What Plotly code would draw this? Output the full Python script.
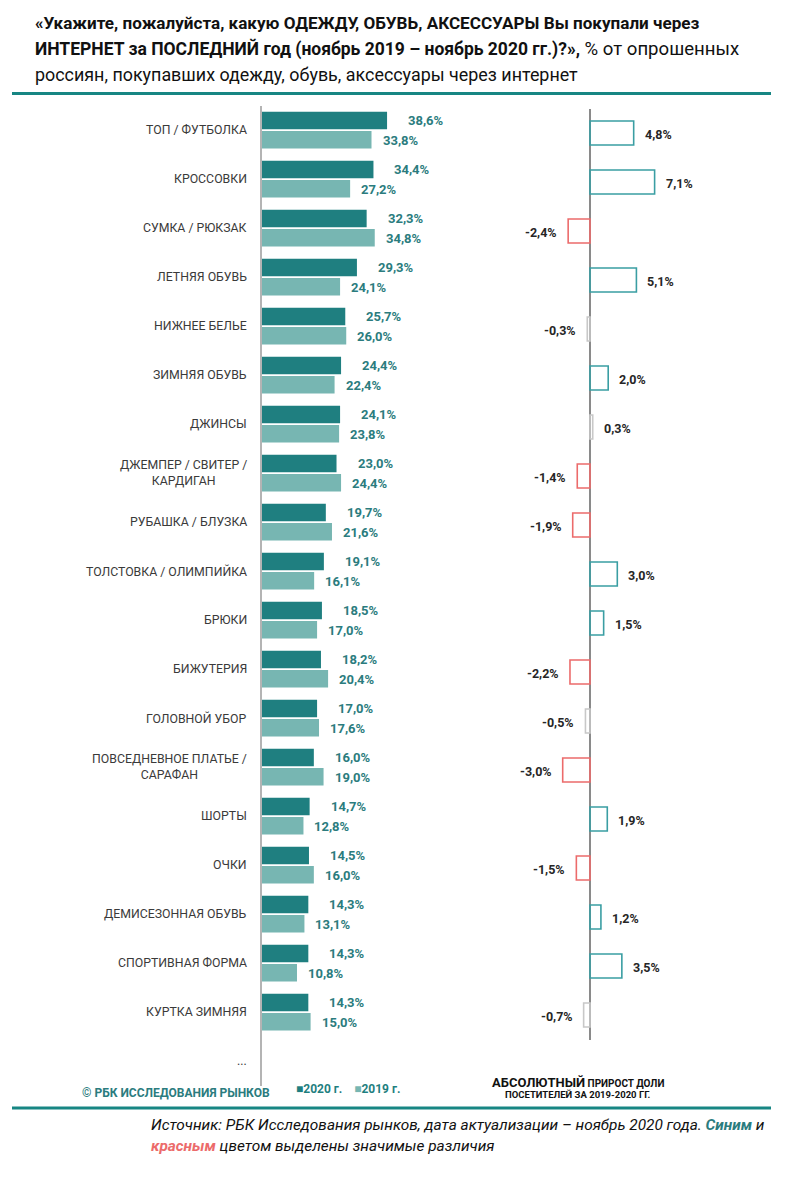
import plotly.graph_objects as go

W, H = 788, 1192
OFF = 8  # page body margin

categories = ["ТОП / ФУТБОЛКА", "КРОССОВКИ", "СУМКА / РЮКЗАК", "ЛЕТНЯЯ ОБУВЬ", "НИЖНЕЕ БЕЛЬЕ",
              "ЗИМНЯЯ ОБУВЬ", "ДЖИНСЫ", "ДЖЕМПЕР / СВИТЕР /<br>КАРДИГАН", "РУБАШКА / БЛУЗКА",
              "ТОЛСТОВКА / ОЛИМПИЙКА", "БРЮКИ", "БИЖУТЕРИЯ", "ГОЛОВНОЙ УБОР",
              "ПОВСЕДНЕВНОЕ ПЛАТЬЕ /<br>САРАФАН", "ШОРТЫ", "ОЧКИ", "ДЕМИСЕЗОННАЯ ОБУВЬ",
              "СПОРТИВНАЯ ФОРМА", "КУРТКА ЗИМНЯЯ"]
more_label = "..."
values_2020 = [38.6, 34.4, 32.3, 29.3, 25.7, 24.4, 24.1, 23.0, 19.7, 19.1, 18.5, 18.2, 17.0, 16.0,
               14.7, 14.5, 14.3, 14.3, 14.3]
values_2019 = [33.8, 27.2, 34.8, 24.1, 26.0, 22.4, 23.8, 24.4, 21.6, 16.1, 17.0, 20.4, 17.6, 19.0,
               12.8, 16.0, 13.1, 10.8, 15.0]
change = [4.8, 7.1, -2.4, 5.1, -0.3, 2.0, 0.3, -1.4, -1.9, 3.0, 1.5, -2.2, -0.5, -3.0, 1.9, -1.5,
          1.2, 3.5, -0.7]
significant = [1, 1, 1, 1, 0, 1, 0, 1, 1, 1, 1, 1, 0, 1, 1, 1, 1, 1, 0]
series_names = ["2020 г.", "2019 г."]

FONT = "Roboto"
C2020 = "#1F7F80"
C2019 = "#77B6B2"
CLABEL = "#2B7C7E"
TEAL_LINE = "#178683"
POS = "#3A9EA3"
NEG = "#EC6B6B"
INS = "#C8C8C8"


def px(x):
    return (x - OFF) / W


def py(y):
    return 1 - (y - OFF) / H


def fmt(v):
    return f"{v:.1f}%".replace(".", ",")


rows = list(range(len(categories)))

fig = go.Figure()
fig.add_trace(go.Bar(y=rows, x=values_2020, orientation="h", width=0.36, offset=-0.375,
                     marker=dict(color=C2020, line=dict(width=0)), name=series_names[0],
                     xaxis="x", yaxis="y", showlegend=False, hoverinfo="skip"))
fig.add_trace(go.Bar(y=rows, x=values_2019, orientation="h", width=0.36, offset=0.02,
                     marker=dict(color=C2019, line=dict(width=0)), name=series_names[1],
                     xaxis="x", yaxis="y", showlegend=False, hoverinfo="skip"))

outline = [(POS if c > 0 else NEG) if s else INS for c, s in zip(change, significant)]
fig.add_trace(go.Bar(y=rows, x=change, orientation="h", width=0.49,
                     marker=dict(color="rgba(255,255,255,0)", line=dict(color=outline, width=1.6)),
                     xaxis="x2", yaxis="y2", showlegend=False, hoverinfo="skip"))

ann = []
# category labels
for i, c in enumerate(categories + [more_label]):
    ann.append(dict(x=px(249), xref="paper", y=i, yref="y", text=c, showarrow=False,
                    xanchor="right", yanchor="middle", align="center",
                    font=dict(family=FONT, size=12.3, color="#3A3A3A")))
# value labels left
for i, (a, b) in enumerate(zip(values_2020, values_2019)):
    ann.append(dict(x=a, y=i - 0.2, xref="x", yref="y", text=fmt(a), showarrow=False,
                    xanchor="left", yanchor="middle", xshift=19,
                    font=dict(family=FONT, size=13, color=CLABEL, weight="bold")))
    ann.append(dict(x=b, y=i + 0.21, xref="x", yref="y", text=fmt(b), showarrow=False,
                    xanchor="left", yanchor="middle", xshift=9,
                    font=dict(family=FONT, size=13, color=CLABEL, weight="bold")))
# value labels right
for i, c in enumerate(change):
    ann.append(dict(x=c, y=i + 0.03, xref="x2", yref="y2", text=fmt(c), showarrow=False,
                    xanchor="left" if c > 0 else "right", yanchor="middle",
                    xshift=9 if c > 0 else -9,
                    font=dict(family=FONT, size=12.5, color="#262626", weight="bold")))

# title
title_lines = [
    "<span style='font-size:17.1px'><b>«Укажите, пожалуйста, какую ОДЕЖДУ, ОБУВЬ, АКСЕССУАРЫ Вы покупали через</b></span>",
    "<span style='font-size:17.5px'><b>ИНТЕРНЕТ за ПОСЛЕДНИЙ год (ноябрь 2019 – ноябрь 2020 гг.)?»,</b></span>"
    "<span style='font-size:18.6px'> % от опрошенных</span>",
    "<span style='font-size:17.9px'>россиян, покупавших одежду, обувь, аксессуары через интернет</span>",
]
for t, yy in zip(title_lines, [22.5, 48.5, 74.5]):
    ann.append(dict(x=px(33), y=py(yy), xref="paper", yref="paper", text=t, showarrow=False,
                    xanchor="left", yanchor="middle", align="left",
                    font=dict(family=FONT, size=17.5, color="#111111")))

# footer
ann.append(dict(x=px(80), y=py(1093), xref="paper", yref="paper",
                text="<b>© РБК ИССЛЕДОВАНИЯ РЫНКОВ</b>", showarrow=False,
                xanchor="left", yanchor="middle",
                font=dict(family=FONT, size=12, color=CLABEL)))
ann.append(dict(x=px(294), y=py(1089), xref="paper", yref="paper",
                text=f"<b><span style='color:{C2020}'>■</span>{series_names[0]}"
                     f"    <span style='color:{C2019}'>■</span>{series_names[1]}</b>",
                showarrow=False, xanchor="left", yanchor="middle",
                font=dict(family=FONT, size=12, color=C2020)))
ann.append(dict(x=px(578), y=py(1082), xref="paper", yref="paper",
                text="<b>АБСОЛЮТНЫЙ</b><b><span style='font-size:10px'> ПРИРОСТ ДОЛИ</span></b>",
                showarrow=False, xanchor="center", yanchor="middle",
                font=dict(family=FONT, size=13, color="#111111")))
ann.append(dict(x=px(577), y=py(1094), xref="paper", yref="paper",
                text="<b>ПОСЕТИТЕЛЕЙ ЗА 2019-2020 ГГ.</b>",
                showarrow=False, xanchor="center", yanchor="middle",
                font=dict(family=FONT, size=9.5, color="#111111")))
ann.append(dict(x=px(149), y=py(1125), xref="paper", yref="paper",
                text="<i>Источник: РБК Исследования рынков, дата актуализации – ноябрь 2020 года. "
                     f"<b><span style='color:{CLABEL}'>Синим</span></b> и</i>",
                showarrow=False, xanchor="left", yanchor="middle",
                font=dict(family=FONT, size=15.4, color="#111111")))
ann.append(dict(x=px(149), y=py(1146), xref="paper", yref="paper",
                text=f"<i><b><span style='color:{NEG}'>красным</span></b> цветом выделены значимые различия</i>",
                showarrow=False, xanchor="left", yanchor="middle",
                font=dict(family=FONT, size=15.4, color="#111111")))

shapes = [
    dict(type="line", xref="paper", yref="paper", x0=px(12), x1=px(771), y0=py(93.5), y1=py(93.5),
         line=dict(color=TEAL_LINE, width=3)),
    dict(type="line", xref="paper", yref="paper", x0=px(12), x1=px(771), y0=py(1108), y1=py(1108),
         line=dict(color=TEAL_LINE, width=3)),
]

n = len(categories) + 1
left_scale = 3.24
right_scale = 9.1
fig.update_layout(
    width=W, height=H, margin=dict(l=0, r=0, t=0, b=0),
    paper_bgcolor="white", plot_bgcolor="rgba(0,0,0,0)",
    barmode="overlay",
    xaxis=dict(domain=[px(262), px(262 + 60 * left_scale)], range=[0, 60], visible=False,
               fixedrange=True),
    yaxis=dict(domain=[py(1085.5), py(105.5)], range=[n - 0.5, -0.5], showticklabels=False,
               showgrid=False, zeroline=False, showline=True, linecolor="#B4B4B4", linewidth=2,
               ticks="", anchor="x"),
    xaxis2=dict(domain=[px(590 - 6 * right_scale), px(590 + 10 * right_scale)], range=[-6, 10],
                showticklabels=False, showgrid=False, zeroline=True, zerolinecolor="#8A8A8A",
                zerolinewidth=1.5, ticks="", anchor="y2"),
    yaxis2=dict(domain=[py(1039.5), py(108.5)], range=[len(categories) - 0.5, -0.5],
                visible=False, anchor="x2"),
    annotations=ann, shapes=shapes,
)

fig.write_html("out.html")
